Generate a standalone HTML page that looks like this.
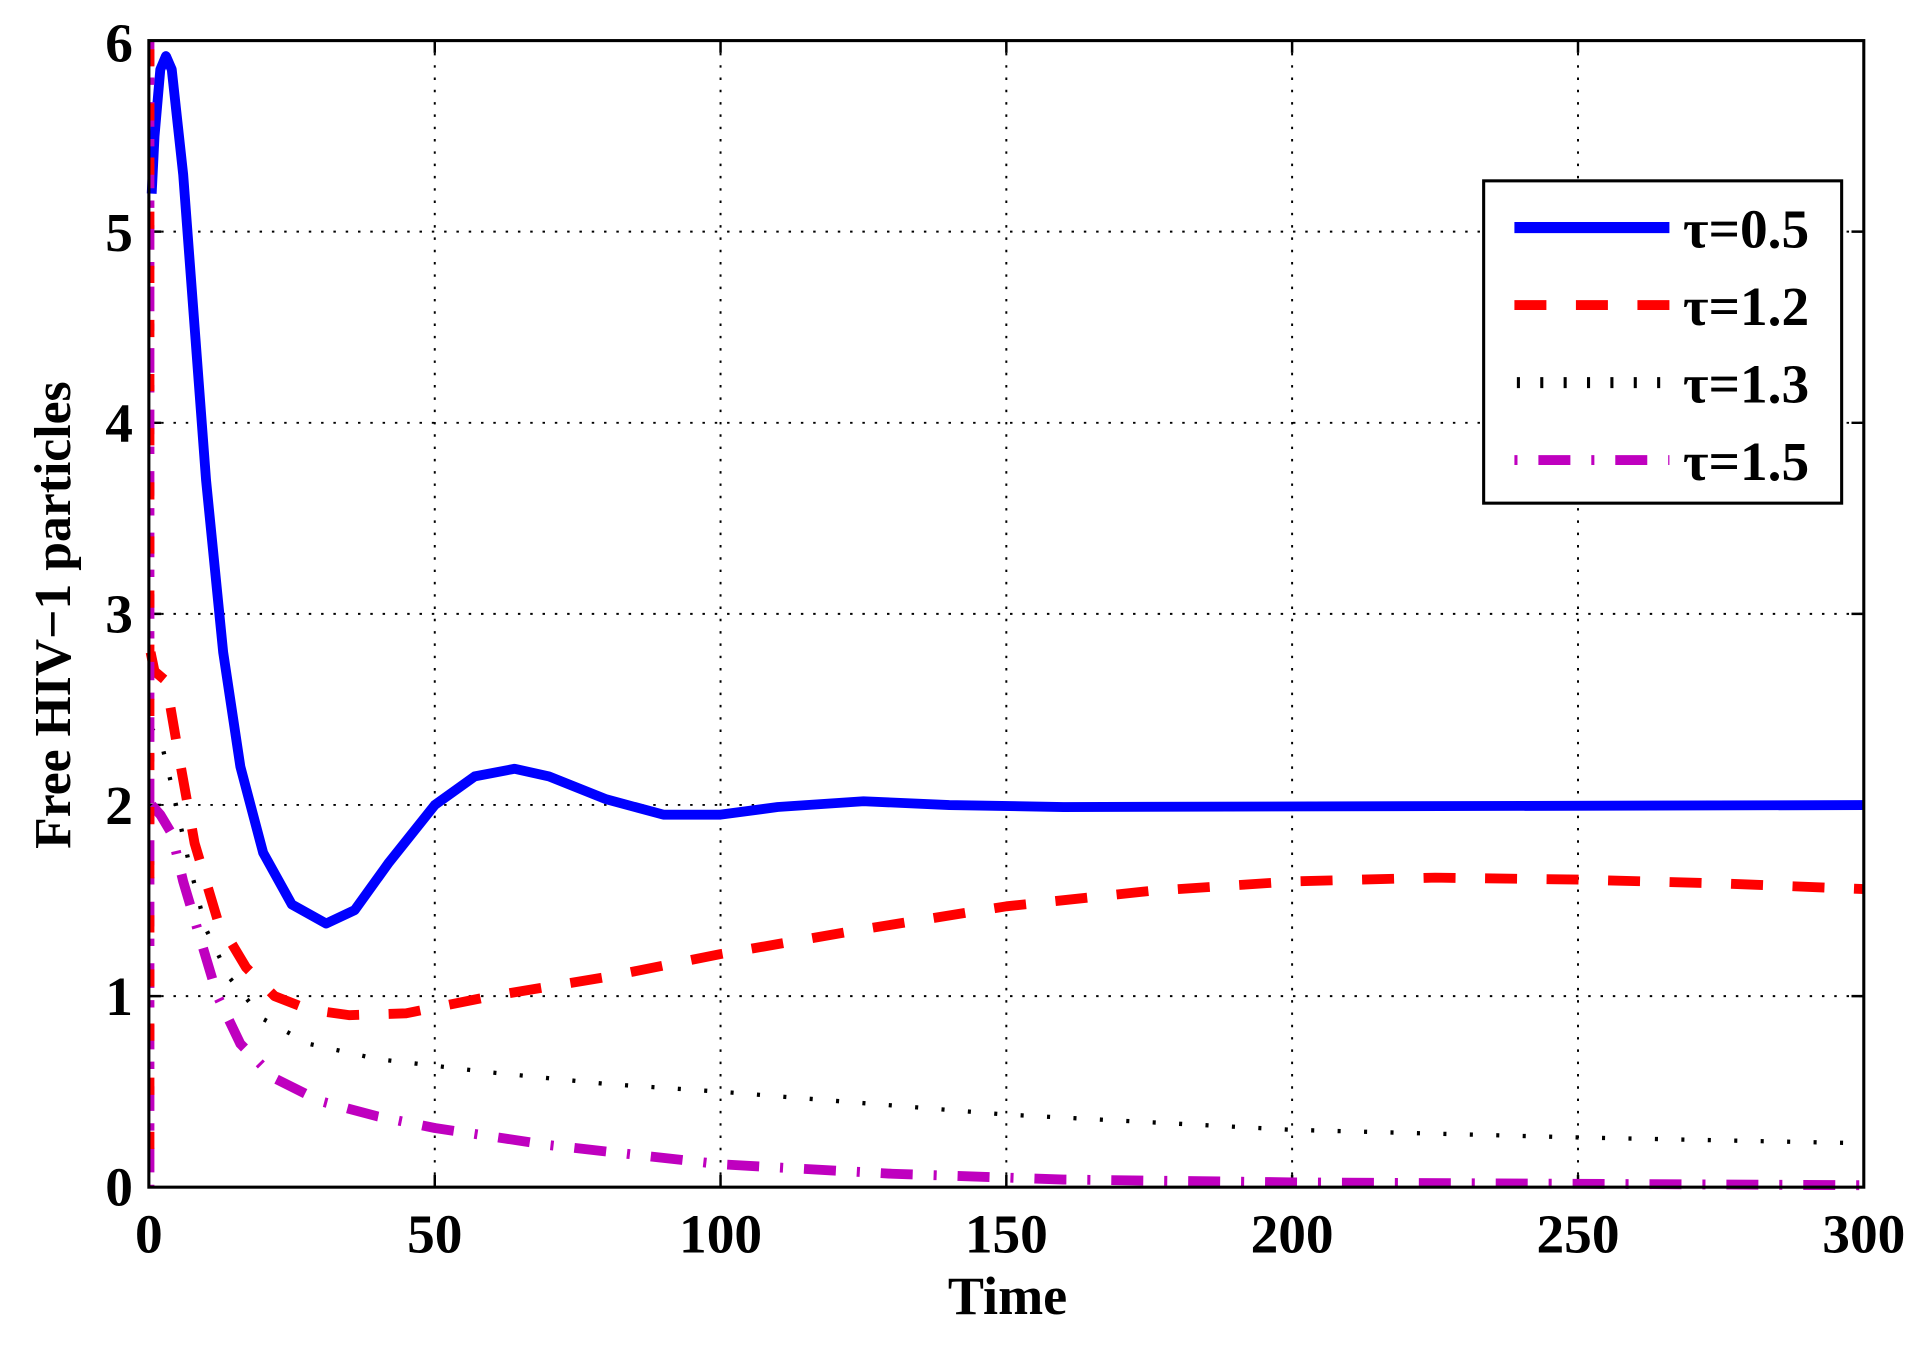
<!DOCTYPE html>
<html><head><style>html,body{margin:0;padding:0;background:#fff}svg{display:block}</style></head>
<body>
<svg width="1929" height="1345" viewBox="0 0 1568 1093.3" xmlns="http://www.w3.org/2000/svg" font-family="Liberation Serif, serif" font-weight="bold">
<rect width="1568" height="1094" fill="#fff"/>
<g stroke="#000" stroke-width="1.6" stroke-dasharray="2,8">
<line x1="353.4" y1="33" x2="353.4" y2="965"/><line x1="585.7" y1="33" x2="585.7" y2="965"/><line x1="818" y1="33" x2="818" y2="965"/><line x1="1050.3" y1="33" x2="1050.3" y2="965"/><line x1="1282.7" y1="33" x2="1282.7" y2="965"/>
<line x1="121" y1="809.7" x2="1515" y2="809.7"/><line x1="121" y1="654.3" x2="1515" y2="654.3"/><line x1="121" y1="499" x2="1515" y2="499"/><line x1="121" y1="343.7" x2="1515" y2="343.7"/><line x1="121" y1="188.3" x2="1515" y2="188.3"/>
</g>
<g stroke="#000" stroke-width="2">
<path d="M353.4 965v-10M585.7 965v-10M818 965v-10M1050.3 965v-10M1282.7 965v-10M353.4 33v10M585.7 33v10M818 33v10M1050.3 33v10M1282.7 33v10"/>
<path d="M121 809.7h10M121 654.3h10M121 499h10M121 343.7h10M121 188.3h10M1515 809.7h-10M1515 654.3h-10M1515 499h-10M1515 343.7h-10M1515 188.3h-10"/>
</g>
<g fill="none" stroke-linejoin="round">
<polyline stroke="#bf00bf" stroke-width="8" stroke-dasharray="26,17,2.5,17" points="123.3,654.4 130.3,662.2 139.6,677.7 148.9,716.5 162.8,763.1 176.8,809.7 195.4,848.5 223.2,876.5 260.4,895.1 306.9,907.5 353.4,916.9 446.3,930.8 585.7,946.4 725.1,954.1 864.5,958.8 1050.4,961.1 1515,963.4"/>
<polyline stroke="#000" stroke-width="3.5" stroke-dasharray="2.5,19" points="123.3,592.3 130.3,600 139.6,638.9 153.5,701 167.5,755.3 186.1,794.2 213.9,828.3 251.1,848.5 306.9,860.9 399.8,871.8 492.8,881.1 585.7,887.4 818.1,906 1050.4,918.4 1282.8,924.6 1515,929.3"/>
<polyline stroke="#ff0000" stroke-width="8" stroke-dasharray="26,24" points="122.4,530.2 125.6,545.7 134.9,553.5 144.2,607.8 158.2,685.5 176.8,747.6 200,786.4 223.2,809.7 251.1,820.6 283.6,825.2 330.1,823.7 399.8,809.7 492.8,794.2 585.7,775.5 701.9,755.3 818.1,736.7 934.2,724.3 1050.4,716.5 1166.6,713.4 1282.8,715 1398.9,718.1 1515,722.7"/>
<polyline stroke="#0000ff" stroke-width="8" points="123.3,157.4 125.6,110.8 130.3,56.5 134.9,45.6 139.6,56.5 148.9,141.9 158.2,266.1 167.5,390.4 181.4,530.2 195.4,623.3 213.9,693.2 237.2,735.2 265.1,750.7 288.3,739.8 316.2,701 353.4,654.4 385.9,631.1 418.4,624.9 446.3,631.1 492.8,649.7 539.2,662.2 585.7,662.2 632.2,656 701.9,651.3 771.6,654.4 864.5,656 1515,654.4"/>
<line x1="123" y1="33" x2="123" y2="965" stroke="#bf00bf" stroke-width="5" stroke-dasharray="20,10,6,14"/>
<line x1="123" y1="40" x2="123" y2="965" stroke="#ff0000" stroke-width="5" stroke-dasharray="14,30"/>
</g>
<rect x="121" y="33" width="1394" height="932" fill="none" stroke="#000" stroke-width="2.5"/>
<g font-size="45" text-anchor="end">
<text x="108" y="980">0</text><text x="108" y="825">1</text><text x="108" y="670">2</text><text x="108" y="514">3</text><text x="108" y="359">4</text><text x="108" y="204">5</text><text x="108" y="50">6</text>
</g>
<g font-size="45" text-anchor="middle">
<text x="121" y="1018">0</text><text x="353.4" y="1018">50</text><text x="585.7" y="1018">100</text><text x="818" y="1018">150</text><text x="1050.3" y="1018">200</text><text x="1282.7" y="1018">250</text><text x="1515" y="1018">300</text>
<text x="819" y="1068" font-size="44">Time</text>
<text transform="translate(57,500) rotate(-90)" font-size="42">Free HIV−1 particles</text>
</g>
<rect x="1206" y="147" width="291" height="262" fill="#fff" stroke="#000" stroke-width="2.5"/>
<line x1="1231" y1="185" x2="1357" y2="185" stroke="#0000ff" stroke-width="9"/>
<line x1="1231" y1="248" x2="1357" y2="248" stroke="#ff0000" stroke-width="8" stroke-dasharray="26,24"/>
<line x1="1233" y1="311" x2="1357" y2="311" stroke="#000" stroke-width="9" stroke-dasharray="2.5,16.5"/>
<line x1="1231" y1="374" x2="1357" y2="374" stroke="#bf00bf" stroke-width="8" stroke-dasharray="2.5,17,26,17"/>
<g font-size="45">
<text x="1368" y="201">τ=0.5</text><text x="1368" y="264">τ=1.2</text><text x="1368" y="327">τ=1.3</text><text x="1368" y="390">τ=1.5</text>
</g>
</svg>
</body></html>
